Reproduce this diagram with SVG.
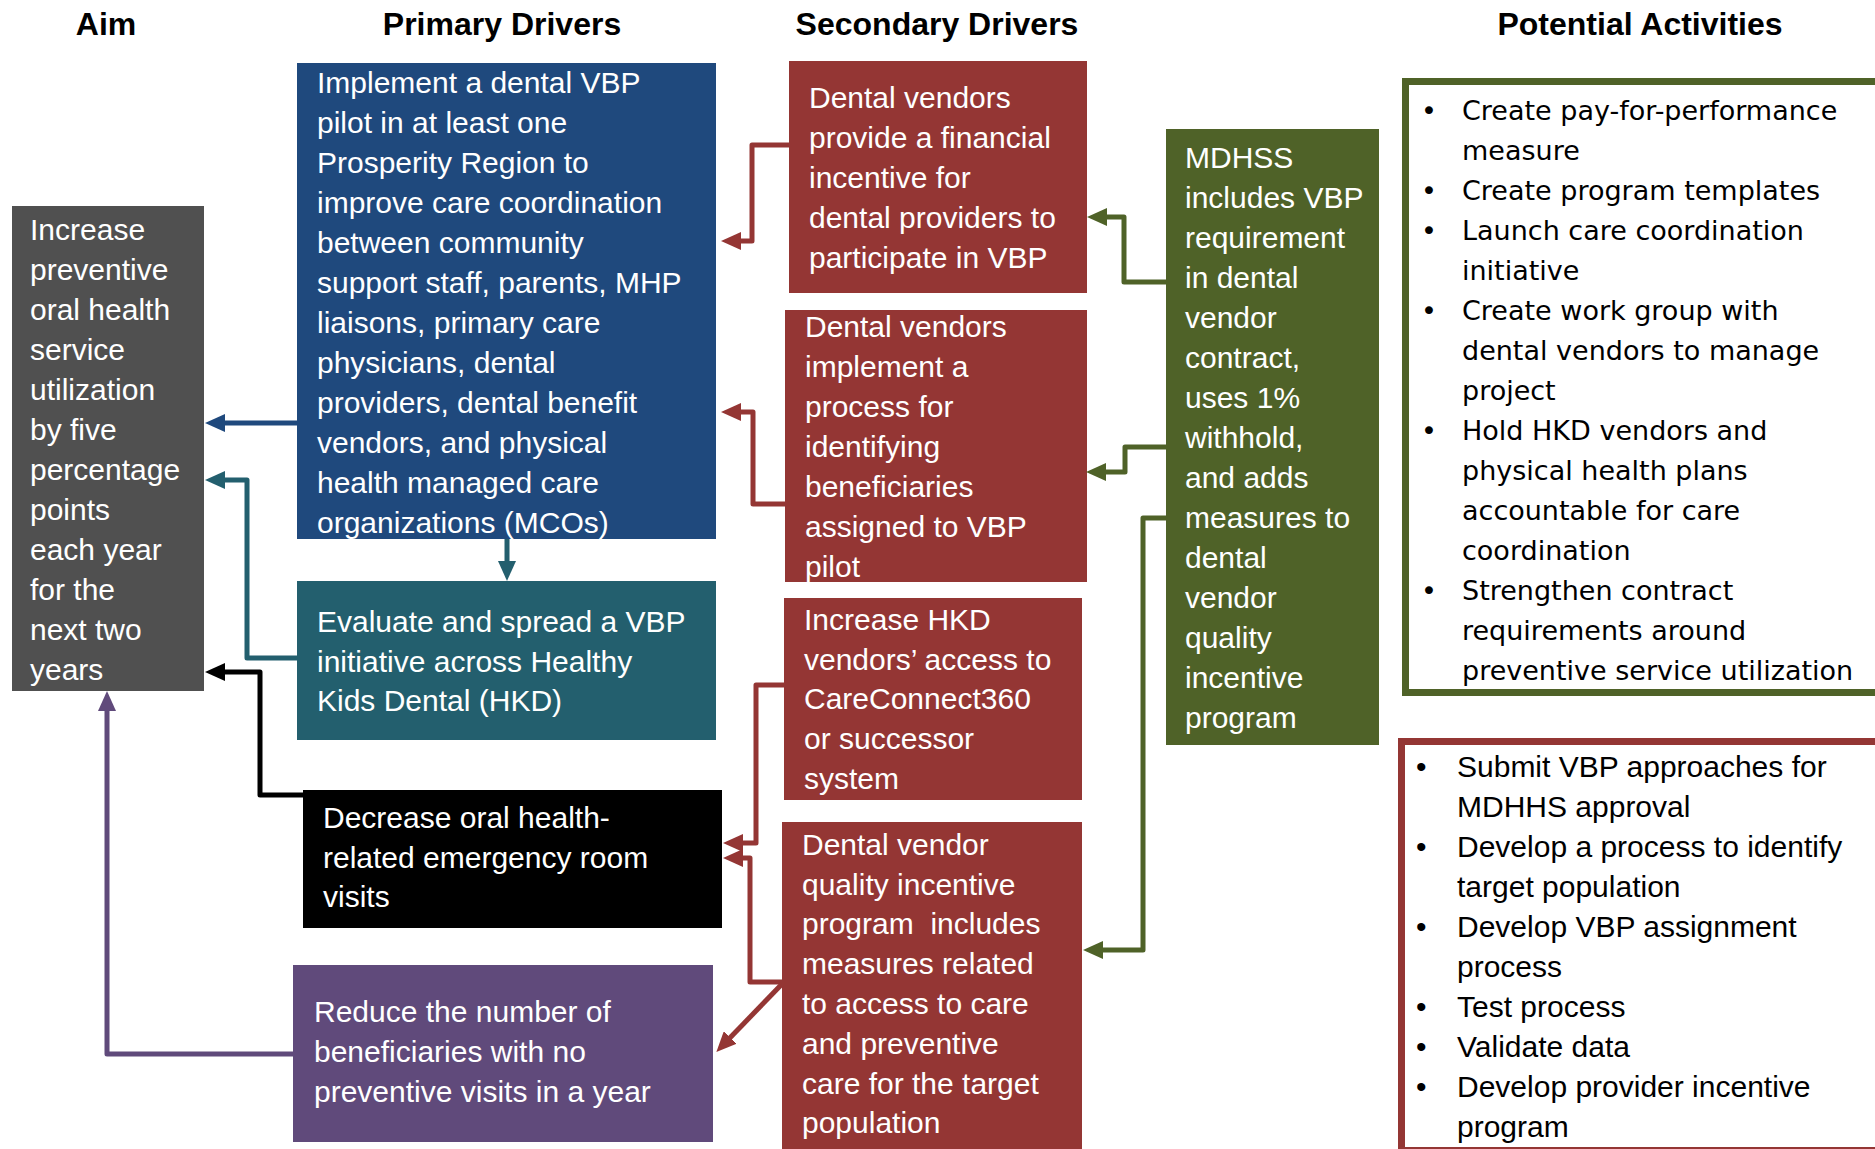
<svg xmlns="http://www.w3.org/2000/svg" width="1875" height="1149" viewBox="0 0 1875 1149">
<style>
.hdr{font-family:"Liberation Sans",Arial,sans-serif;font-weight:bold;font-size:32px;fill:#000;text-anchor:middle}
.nt{font-family:"Liberation Sans",Arial,sans-serif;font-size:30px;fill:#fff}
.a1{font-family:"DejaVu Sans",Verdana,sans-serif;font-size:27px;fill:#000}
.a2{font-family:"Liberation Sans",Arial,sans-serif;font-size:30px;fill:#000}
.ln{fill:none;stroke-width:5;stroke-linejoin:round}
</style>
<defs>
<marker id="mBlue" markerUnits="userSpaceOnUse" markerWidth="20" markerHeight="18" refX="9" refY="9" orient="auto"><path d="M0,0 L20,9 L0,18 Z" fill="#1f497d"/></marker>
<marker id="mTeal" markerUnits="userSpaceOnUse" markerWidth="20" markerHeight="18" refX="9" refY="9" orient="auto"><path d="M0,0 L20,9 L0,18 Z" fill="#235f6e"/></marker>
<marker id="mBlack" markerUnits="userSpaceOnUse" markerWidth="20" markerHeight="18" refX="9" refY="9" orient="auto"><path d="M0,0 L20,9 L0,18 Z" fill="#000"/></marker>
<marker id="mPurple" markerUnits="userSpaceOnUse" markerWidth="20" markerHeight="18" refX="9" refY="9" orient="auto"><path d="M0,0 L20,9 L0,18 Z" fill="#604a7b"/></marker>
<marker id="mRed" markerUnits="userSpaceOnUse" markerWidth="20" markerHeight="18" refX="9" refY="9" orient="auto"><path d="M0,0 L20,9 L0,18 Z" fill="#943634"/></marker>
<marker id="mGreen" markerUnits="userSpaceOnUse" markerWidth="20" markerHeight="18" refX="9" refY="9" orient="auto"><path d="M0,0 L20,9 L0,18 Z" fill="#4f6228"/></marker>
</defs>
<rect width="1875" height="1149" fill="#fff"/>

<g id="headers">
<text class="hdr" x="106" y="35">Aim</text>
<text class="hdr" x="502" y="35">Primary Drivers</text>
<text class="hdr" x="937" y="35">Secondary Drivers</text>
<text class="hdr" x="1640" y="35">Potential Activities</text>
</g>

<g id="aim">
<rect x="12" y="206" width="192" height="485" fill="#505050"/>
<text class="nt"><tspan x="30" y="240">Increase</tspan><tspan x="30" y="280">preventive</tspan><tspan x="30" y="320">oral health</tspan><tspan x="30" y="360">service</tspan><tspan x="30" y="400">utilization</tspan><tspan x="30" y="440">by five</tspan><tspan x="30" y="480">percentage</tspan><tspan x="30" y="520">points</tspan><tspan x="30" y="560">each year</tspan><tspan x="30" y="600">for the</tspan><tspan x="30" y="640">next two</tspan><tspan x="30" y="680">years</tspan></text>
</g>

<g id="primary1">
<rect x="297" y="63" width="419" height="476" fill="#1f497d"/>
<text class="nt"><tspan x="317" y="93">Implement a dental VBP</tspan><tspan x="317" y="133">pilot in at least one</tspan><tspan x="317" y="173">Prosperity Region to</tspan><tspan x="317" y="213">improve care coordination</tspan><tspan x="317" y="253">between community</tspan><tspan x="317" y="293">support staff, parents, MHP</tspan><tspan x="317" y="333">liaisons, primary care</tspan><tspan x="317" y="373">physicians, dental</tspan><tspan x="317" y="413">providers, dental benefit</tspan><tspan x="317" y="453">vendors, and physical</tspan><tspan x="317" y="493">health managed care</tspan><tspan x="317" y="533">organizations (MCOs)</tspan></text>
</g>

<g id="primary2">
<rect x="297" y="581" width="419" height="159" fill="#235f6e"/>
<text class="nt"><tspan x="317" y="632">Evaluate and spread a VBP</tspan><tspan x="317" y="672">initiative across Healthy</tspan><tspan x="317" y="711">Kids Dental (HKD)</tspan></text>
</g>

<g id="primary3">
<rect x="303" y="790" width="419" height="138" fill="#000"/>
<text class="nt"><tspan x="323" y="828">Decrease oral health-</tspan><tspan x="323" y="868">related emergency room</tspan><tspan x="323" y="907">visits</tspan></text>
</g>

<g id="primary4">
<rect x="293" y="965" width="420" height="177" fill="#604a7b"/>
<text class="nt"><tspan x="314" y="1022">Reduce the number of</tspan><tspan x="314" y="1062">beneficiaries with no</tspan><tspan x="314" y="1102">preventive visits in a year</tspan></text>
</g>

<g id="secondary1">
<rect x="789" y="61" width="298" height="232" fill="#943634"/>
<text class="nt"><tspan x="809" y="108">Dental vendors</tspan><tspan x="809" y="148">provide a financial</tspan><tspan x="809" y="188">incentive for</tspan><tspan x="809" y="228">dental providers to</tspan><tspan x="809" y="268">participate in VBP</tspan></text>
</g>

<g id="secondary2">
<rect x="785" y="310" width="302" height="272" fill="#943634"/>
<text class="nt"><tspan x="805" y="337">Dental vendors</tspan><tspan x="805" y="377">implement a</tspan><tspan x="805" y="417">process for</tspan><tspan x="805" y="457">identifying</tspan><tspan x="805" y="497">beneficiaries</tspan><tspan x="805" y="537">assigned to VBP</tspan><tspan x="805" y="577">pilot</tspan></text>
</g>

<g id="secondary3">
<rect x="784" y="598" width="298" height="202" fill="#943634"/>
<text class="nt"><tspan x="804" y="630">Increase HKD</tspan><tspan x="804" y="670">vendors’ access to</tspan><tspan x="804" y="709">CareConnect360</tspan><tspan x="804" y="749">or successor</tspan><tspan x="804" y="789">system</tspan></text>
</g>

<g id="secondary4">
<rect x="782" y="822" width="300" height="330" fill="#943634"/>
<text class="nt"><tspan x="802" y="855">Dental vendor</tspan><tspan x="802" y="895">quality incentive</tspan><tspan x="802" y="934">program&#160; includes</tspan><tspan x="802" y="974">measures related</tspan><tspan x="802" y="1014">to access to care</tspan><tspan x="802" y="1054">and preventive</tspan><tspan x="802" y="1094">care for the target</tspan><tspan x="802" y="1133">population</tspan></text>
</g>

<g id="secondary5">
<rect x="1166" y="129" width="213" height="616" fill="#4f6228"/>
<text class="nt"><tspan x="1185" y="168">MDHSS</tspan><tspan x="1185" y="208">includes VBP</tspan><tspan x="1185" y="248">requirement</tspan><tspan x="1185" y="288">in dental</tspan><tspan x="1185" y="328">vendor</tspan><tspan x="1185" y="368">contract,</tspan><tspan x="1185" y="408">uses 1%</tspan><tspan x="1185" y="448">withhold,</tspan><tspan x="1185" y="488">and adds</tspan><tspan x="1185" y="528">measures to</tspan><tspan x="1185" y="568">dental</tspan><tspan x="1185" y="608">vendor</tspan><tspan x="1185" y="648">quality</tspan><tspan x="1185" y="688">incentive</tspan><tspan x="1185" y="728">program</tspan></text>
</g>

<g id="activities1">
<rect x="1405.5" y="81.5" width="480" height="611" fill="#fff" stroke="#4f6228" stroke-width="7"/>
<text class="a1"><tspan x="1421" y="120">•</tspan><tspan x="1462" y="120">Create pay-for-performance</tspan><tspan x="1462" y="160">measure</tspan><tspan x="1421" y="200">•</tspan><tspan x="1462" y="200">Create program templates</tspan><tspan x="1421" y="240">•</tspan><tspan x="1462" y="240">Launch care coordination</tspan><tspan x="1462" y="280">initiative</tspan><tspan x="1421" y="320">•</tspan><tspan x="1462" y="320">Create work group with</tspan><tspan x="1462" y="360">dental vendors to manage</tspan><tspan x="1462" y="400">project</tspan><tspan x="1421" y="440">•</tspan><tspan x="1462" y="440">Hold HKD vendors and</tspan><tspan x="1462" y="480">physical health plans</tspan><tspan x="1462" y="520">accountable for care</tspan><tspan x="1462" y="560">coordination</tspan><tspan x="1421" y="600">•</tspan><tspan x="1462" y="600">Strengthen contract</tspan><tspan x="1462" y="640">requirements around</tspan><tspan x="1462" y="680">preventive service utilization</tspan></text>
</g>

<g id="activities2">
<rect x="1401.5" y="741.5" width="480" height="409" fill="#fff" stroke="#943634" stroke-width="7"/>
<text class="a2"><tspan x="1416" y="777">•</tspan><tspan x="1457" y="777">Submit VBP approaches for</tspan><tspan x="1457" y="817">MDHHS approval</tspan><tspan x="1416" y="857">•</tspan><tspan x="1457" y="857">Develop a process to identify</tspan><tspan x="1457" y="897">target population</tspan><tspan x="1416" y="937">•</tspan><tspan x="1457" y="937">Develop VBP assignment</tspan><tspan x="1457" y="977">process</tspan><tspan x="1416" y="1017">•</tspan><tspan x="1457" y="1017">Test process</tspan><tspan x="1416" y="1057">•</tspan><tspan x="1457" y="1057">Validate data</tspan><tspan x="1416" y="1097">•</tspan><tspan x="1457" y="1097">Develop provider incentive</tspan><tspan x="1457" y="1137">program</tspan></text>
</g>

<g id="connectors">
<path class="ln" d="M297,423 H216" stroke="#1f497d" stroke-width="4" marker-end="url(#mBlue)"/>
<path class="ln" d="M297,658 H247 V480 H216" stroke="#235f6e" marker-end="url(#mTeal)"/>
<path class="ln" d="M507,539 V570" stroke="#235f6e" marker-end="url(#mTeal)"/>
<path class="ln" d="M303,795 H260 V672 H216" stroke="#000" marker-end="url(#mBlack)"/>
<path class="ln" d="M293,1054 H107 V702" stroke="#604a7b" stroke-width="4" marker-end="url(#mPurple)"/>
<path class="ln" d="M789,145 H752 V241 H732" stroke="#943634" marker-end="url(#mRed)"/>
<path class="ln" d="M785,504 H753 V412 H732" stroke="#943634" marker-end="url(#mRed)"/>
<path class="ln" d="M784,685 H756 V843 H734" stroke="#943634" marker-end="url(#mRed)"/>
<path class="ln" d="M782,982 H750 V858 H734" stroke="#943634" marker-end="url(#mRed)"/>
<path class="ln" d="M782,984 L724,1044" stroke="#943634" marker-end="url(#mRed)"/>
<path class="ln" d="M1166,282 H1124 V217 H1098" stroke="#4f6228" marker-end="url(#mGreen)"/>
<path class="ln" d="M1166,447 H1125 V472 H1097" stroke="#4f6228" marker-end="url(#mGreen)"/>
<path class="ln" d="M1166,518 H1143 V950 H1094" stroke="#4f6228" stroke-width="4" marker-end="url(#mGreen)"/>
</g>
</svg>
